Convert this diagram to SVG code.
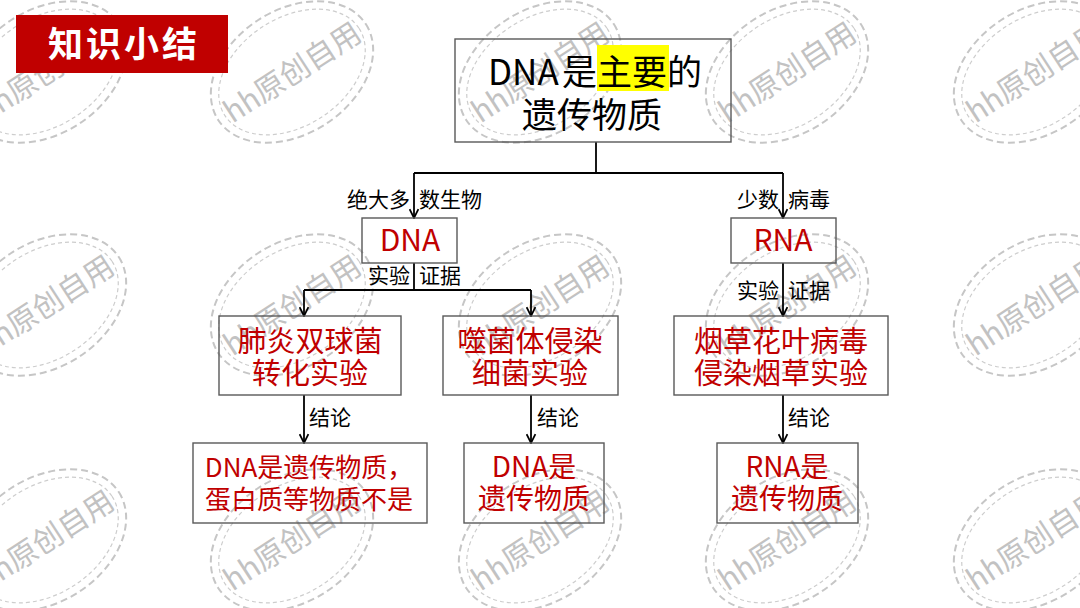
<svg xmlns="http://www.w3.org/2000/svg" xmlns:xlink="http://www.w3.org/1999/xlink" width="1080" height="608" viewBox="0 0 1080 608">
  <style>
    text { font-family: "Noto Sans CJK SC", "Noto Sans", sans-serif; }
    .box { fill: none; stroke: #595959; stroke-width: 1.4; }
    .red { fill: #c00000; text-anchor: middle; }
    .lbl { fill: #000; font-size: 21px; }
    .wire { fill: none; stroke: #000; stroke-width: 1.8; }
    .arrow { marker-end: url(#arr); }
    .wm-o { fill: none; stroke: #c6c6c6; stroke-width: 2; stroke-dasharray: 7 4; }
    .wm-i { fill: none; stroke: #cdcdcd; stroke-width: 1.2; stroke-dasharray: 4 3; }
    .wm-t { fill: #c2c2c2; font-size: 30px; text-anchor: middle; }
  </style>
  <defs>
    <marker id="arr" viewBox="0 0 10 10" refX="9" refY="5" markerWidth="11" markerHeight="11" markerUnits="userSpaceOnUse" orient="auto">
      <path d="M1,1 L9,5 L1,9" fill="none" stroke="#000" stroke-width="1.6"/>
    </marker>
    <g id="stamp">
      <g transform="rotate(-33)">
        <ellipse class="wm-o" cx="0" cy="0" rx="88" ry="62"/>
        <ellipse class="wm-i" cx="0" cy="0" rx="80" ry="54"/>
        <text class="wm-t" x="0" y="11">hh原创自用</text>
      </g>
    </g>
  </defs>
  <rect width="1080" height="608" fill="#ffffff"/>

  <g id="watermark">
    <use xlink:href="#stamp" x="45" y="72"/>
    <use xlink:href="#stamp" x="292" y="72"/>
    <use xlink:href="#stamp" x="540" y="72"/>
    <use xlink:href="#stamp" x="787" y="72"/>
    <use xlink:href="#stamp" x="1035" y="72"/>
    <use xlink:href="#stamp" x="45" y="305"/>
    <use xlink:href="#stamp" x="292" y="305"/>
    <use xlink:href="#stamp" x="540" y="305"/>
    <use xlink:href="#stamp" x="787" y="305"/>
    <use xlink:href="#stamp" x="1035" y="305"/>
    <use xlink:href="#stamp" x="45" y="540"/>
    <use xlink:href="#stamp" x="292" y="540"/>
    <use xlink:href="#stamp" x="540" y="540"/>
    <use xlink:href="#stamp" x="787" y="540"/>
    <use xlink:href="#stamp" x="1035" y="540"/>
  </g>

  <g id="title">
    <rect x="16" y="15" width="212" height="58" fill="#c00000"/>
    <text x="124" y="57" font-size="35" font-weight="bold" fill="#ffffff" text-anchor="middle" letter-spacing="3">知识小结</text>
  </g>

  <g id="connectors">
    <path class="wire" d="M596,142 V173"/>
    <path class="wire" d="M414,173 H783"/>
    <path class="wire arrow" d="M414,173 V218"/>
    <path class="wire arrow" d="M783,173 V218"/>
    <path class="wire" d="M414,263 V290"/>
    <path class="wire" d="M304,290 H531"/>
    <path class="wire arrow" d="M304,290 V316"/>
    <path class="wire arrow" d="M531,290 V316"/>
    <path class="wire arrow" d="M783,263 V316"/>
    <path class="wire arrow" d="M304,395 V443"/>
    <path class="wire arrow" d="M531,395 V443"/>
    <path class="wire arrow" d="M783,395 V443"/>
    <text class="lbl" x="410" y="207" text-anchor="end">绝大多</text>
    <text class="lbl" x="419" y="207">数生物</text>
    <text class="lbl" x="779" y="207" text-anchor="end">少数</text>
    <text class="lbl" x="788" y="207">病毒</text>
    <text class="lbl" x="410" y="283" text-anchor="end">实验</text>
    <text class="lbl" x="419" y="283">证据</text>
    <text class="lbl" x="779" y="298" text-anchor="end">实验</text>
    <text class="lbl" x="788" y="298">证据</text>
    <text class="lbl" x="309" y="425">结论</text>
    <text class="lbl" x="537" y="425">结论</text>
    <text class="lbl" x="788" y="425">结论</text>
  </g>

  <g id="node-top">
    <rect x="597" y="45" width="72" height="46" fill="#ffff00"/>
    <rect class="box" x="455" y="39" width="276" height="103"/>
    <text font-size="35" fill="#000"><tspan x="488" y="85">DNA</tspan><tspan x="562" y="85">是主要的</tspan><tspan x="592" y="128" text-anchor="middle">遗传物质</tspan></text>
  </g>

  <g id="node-dna">
    <rect class="box" x="362" y="218" width="95" height="45"/>
    <text class="red" x="410" y="251" font-size="30">DNA</text>
  </g>

  <g id="node-rna">
    <rect class="box" x="731" y="218" width="105" height="45"/>
    <text class="red" x="783" y="251" font-size="30">RNA</text>
  </g>

  <g id="node-exp1">
    <rect class="box" x="219" y="316" width="182" height="79"/>
    <text class="red" font-size="29"><tspan x="310" y="352">肺炎双球菌</tspan><tspan x="310" y="384">转化实验</tspan></text>
  </g>

  <g id="node-exp2">
    <rect class="box" x="443" y="316" width="175" height="79"/>
    <text class="red" font-size="29"><tspan x="530" y="352">噬菌体侵染</tspan><tspan x="530" y="384">细菌实验</tspan></text>
  </g>

  <g id="node-exp3">
    <rect class="box" x="674" y="316" width="214" height="79"/>
    <text class="red" font-size="29"><tspan x="781" y="352">烟草花叶病毒</tspan><tspan x="781" y="384">侵染烟草实验</tspan></text>
  </g>

  <g id="node-res1">
    <rect class="box" x="193" y="443" width="234" height="80"/>
    <text class="red" font-size="26"><tspan x="309" y="477">DNA是遗传物质，</tspan><tspan x="309" y="509">蛋白质等物质不是</tspan></text>
  </g>

  <g id="node-res2">
    <rect class="box" x="464" y="443" width="140" height="80"/>
    <text class="red" font-size="28"><tspan x="534" y="477">DNA是</tspan><tspan x="534" y="509">遗传物质</tspan></text>
  </g>

  <g id="node-res3">
    <rect class="box" x="717" y="443" width="141" height="80"/>
    <text class="red" font-size="28"><tspan x="787" y="477">RNA是</tspan><tspan x="787" y="509">遗传物质</tspan></text>
  </g>
</svg>
